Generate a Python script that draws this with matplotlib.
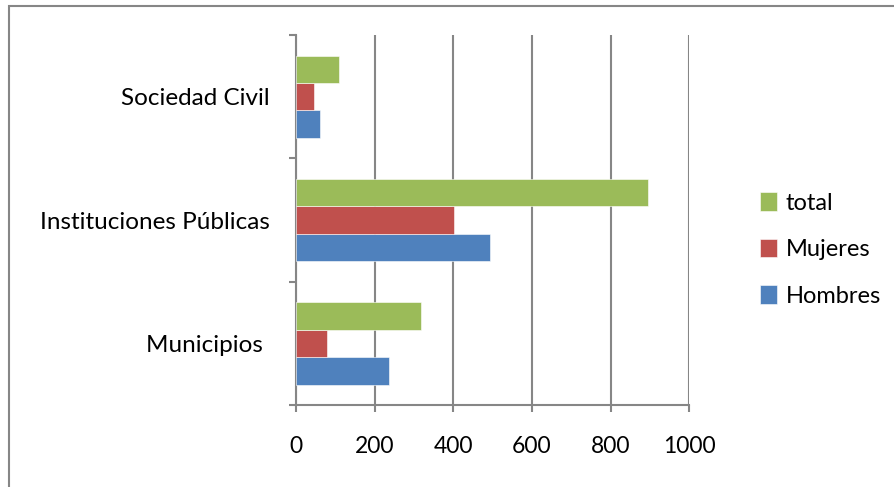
import numpy as np
import matplotlib.pyplot as plt
from matplotlib.patches import Rectangle

categories = ["Municipios ", "Instituciones Públicas", "Sociedad Civil"]
hombres = [236, 494, 61]
mujeres = [80, 403, 47]
total = [317, 896, 109]

series = [("Hombres", hombres, "#4F81BD"),
          ("Mujeres", mujeres, "#C0504D"),
          ("total", total, "#9BBB59")]

plt.rcParams['font.family'] = ['Lato', 'DejaVu Sans']

fig = plt.figure(figsize=(8.94, 4.87), dpi=100)
ax = fig.add_axes([0.331, 0.168, 0.44, 0.76])

y = np.arange(len(categories))
h = 0.222
for i, (name, vals, col) in enumerate(series):
    ax.barh(y + (i - 1) * h, vals, height=h, color=col, label=name,
            edgecolor="white", linewidth=0.4, zorder=3)

ax.set_xlim(0, 1000)
ax.set_ylim(-0.5, 2.5)
ax.set_xticks(range(0, 1001, 200))
ax.xaxis.grid(True, color="#868686", linewidth=1.5, zorder=0)
ax.set_axisbelow(True)

ax.set_yticks([-0.5, 0.5, 1.5, 2.5])
ax.set_yticklabels([])
ax.set_yticks(y, minor=True)
ax.set_yticklabels(categories, minor=True, fontsize=17.5)
ax.tick_params(axis="y", which="minor", length=0, pad=19)
ax.tick_params(axis="y", which="major", length=5, color="#868686", width=1.5)
ax.tick_params(axis="x", length=5, color="#868686", width=1.5, pad=17, labelsize=16.5)

for s in ["top", "right"]:
    ax.spines[s].set_visible(False)
for s in ["left", "bottom"]:
    ax.spines[s].set_color("#868686")
    ax.spines[s].set_linewidth(1.5)

handles, labels = ax.get_legend_handles_labels()
leg = fig.legend(handles[::-1], labels[::-1], loc="center left",
                 bbox_to_anchor=(0.826, 0.488), frameon=False, fontsize=17,
                 handlelength=0.75, handleheight=0.85, handletextpad=0.35,
                 labelspacing=1.05)

fig.patches.append(Rectangle((0.010, -0.02), 1.1, 1.008, transform=fig.transFigure,
                             fill=False, edgecolor="#868686", linewidth=1.5))

fig.savefig("out.png", dpi=100)
